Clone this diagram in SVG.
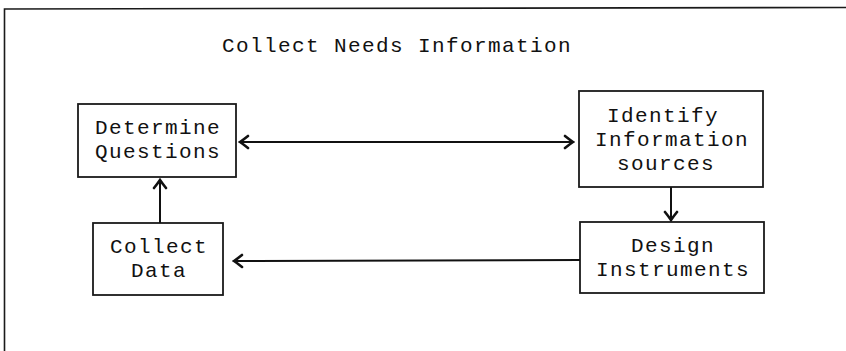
<svg xmlns="http://www.w3.org/2000/svg" width="846" height="351" viewBox="0 0 846 351">
  <style>
    .frame { fill: none; stroke: #1a1a1a; stroke-width: 1.6; }
    .box { fill: #ffffff; stroke: #1a1a1a; stroke-width: 1.8; }
    .label { font-family: "Liberation Mono", "Courier New", monospace; font-size: 21px; letter-spacing: 1.4px; fill: #111111; }
    .mid { text-anchor: middle; }
    .link { fill: none; stroke: #111111; stroke-width: 2; marker-end: url(#head); }
  </style>
  <defs>
    <marker id="head" viewBox="-11 -8 13 16" refX="0" refY="0" markerWidth="13" markerHeight="16" markerUnits="userSpaceOnUse" orient="auto-start-reverse">
      <path d="M-8,-6 Q-3,-2 0,0 Q-3,2 -8,6" fill="none" stroke="#111111" stroke-width="2.6" stroke-linecap="round"/>
    </marker>
  </defs>

  <rect width="846" height="351" fill="#ffffff"/>

  <!-- open frame: top and left edges only -->
  <path class="frame" d="M846,7.5 L4.5,9 L4.5,351"/>

  <text class="label" x="222" y="52">Collect Needs Information</text>

  <g id="determine-questions">
    <rect class="box" x="78" y="104" width="158" height="73"/>
    <text class="label mid" x="158" y="134">Determine</text>
    <text class="label mid" x="158" y="158">Questions</text>
  </g>

  <g id="identify-sources">
    <rect class="box" x="579" y="91" width="184" height="96"/>
    <text class="label" x="607" y="122">Identify</text>
    <text class="label" x="595" y="146">Information</text>
    <text class="label" x="617" y="170">sources</text>
  </g>

  <g id="design-instruments">
    <rect class="box" x="580" y="222" width="184" height="71"/>
    <text class="label mid" x="673" y="252">Design</text>
    <text class="label mid" x="673" y="276">Instruments</text>
  </g>

  <g id="collect-data">
    <rect class="box" x="93" y="223" width="130" height="72"/>
    <text class="label mid" x="159" y="253">Collect</text>
    <text class="label mid" x="159" y="277">Data</text>
  </g>

  <g id="connectors">
    <line class="link" x1="240" y1="142" x2="573" y2="142" marker-start="url(#head)"/>
    <line class="link" x1="671" y1="187" x2="671" y2="220"/>
    <line class="link" x1="580" y1="260" x2="234" y2="261"/>
    <line class="link" x1="160" y1="223" x2="160" y2="180"/>
  </g>
</svg>
